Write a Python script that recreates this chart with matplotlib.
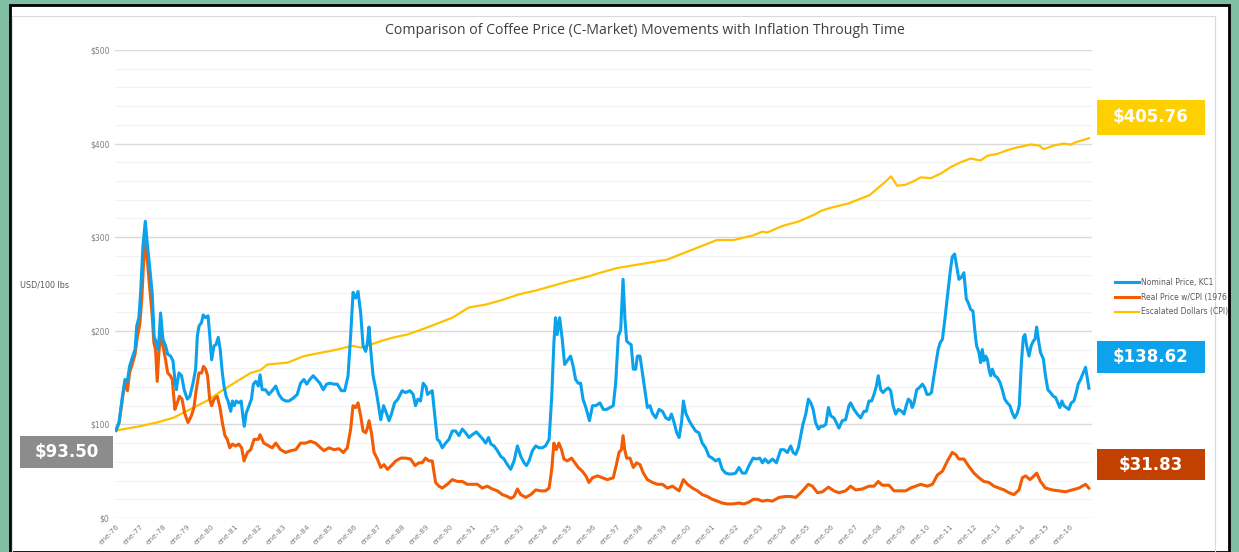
import numpy as np
import matplotlib
matplotlib.use("Agg")
import matplotlib.pyplot as plt
from matplotlib.patches import Rectangle

# ---- data (decimal year, USD/100 lbs) ----
nominal_t = [1976.0, 1976.13, 1976.27, 1976.38, 1976.48, 1976.57, 1976.68, 1976.8, 1976.87, 1976.96,
             1977.03, 1977.13, 1977.23, 1977.31, 1977.41, 1977.52, 1977.6, 1977.7, 1977.78, 1977.87,
             1977.97, 1978.08, 1978.17, 1978.29, 1978.39, 1978.47, 1978.53, 1978.64, 1978.75, 1978.86,
             1978.99, 1979.1, 1979.23, 1979.34, 1979.41, 1979.48, 1979.59, 1979.66, 1979.76, 1979.86,
             1979.93, 1980.01, 1980.11, 1980.19, 1980.29, 1980.37, 1980.46, 1980.53, 1980.62, 1980.7,
             1980.81, 1980.88, 1980.96, 1981.04, 1981.15, 1981.25, 1981.32, 1981.38, 1981.46, 1981.58,
             1981.68, 1981.76, 1981.86, 1981.97, 1982.04, 1982.13, 1982.27, 1982.41, 1982.55, 1982.7,
             1982.83, 1982.97, 1983.12, 1983.26, 1983.43, 1983.6, 1983.74, 1983.88, 1984.0, 1984.13,
             1984.27, 1984.41, 1984.55, 1984.69, 1984.83, 1984.97, 1985.14, 1985.28, 1985.45, 1985.59,
             1985.73, 1985.84, 1985.94, 1986.05, 1986.15, 1986.26, 1986.36, 1986.47, 1986.54, 1986.61,
             1986.68, 1986.78, 1986.9, 1986.99, 1987.1, 1987.22, 1987.31, 1987.45, 1987.56, 1987.68,
             1987.82, 1988.0, 1988.14, 1988.33, 1988.46, 1988.56, 1988.66, 1988.77, 1988.88, 1989.0,
             1989.06, 1989.16, 1989.26, 1989.37, 1989.47, 1989.56, 1989.68, 1989.82, 1989.96, 1990.1,
             1990.24, 1990.38, 1990.52, 1990.66, 1990.8, 1990.94, 1991.11, 1991.25, 1991.39, 1991.5,
             1991.62, 1991.72, 1991.85, 1991.99, 1992.13, 1992.27, 1992.41, 1992.55, 1992.69, 1992.83,
             1992.97, 1993.11, 1993.21, 1993.32, 1993.46, 1993.6, 1993.74, 1993.87, 1994.01, 1994.16,
             1994.27, 1994.36, 1994.43, 1994.5, 1994.6, 1994.71, 1994.81, 1994.92, 1995.06, 1995.17,
             1995.27, 1995.38, 1995.48, 1995.58, 1995.7, 1995.85, 1995.98, 1996.12, 1996.29, 1996.43,
             1996.57, 1996.71, 1996.85, 1996.95, 1997.06, 1997.16, 1997.26, 1997.34, 1997.41, 1997.5,
             1997.6, 1997.69, 1997.79, 1997.86, 1997.97, 1998.07, 1998.17, 1998.28, 1998.39, 1998.49,
             1998.63, 1998.77, 1998.91, 1999.05, 1999.19, 1999.29, 1999.4, 1999.51, 1999.61, 1999.71,
             1999.79, 1999.89, 2000.03, 2000.17, 2000.3, 2000.44, 2000.58, 2000.72, 2000.86, 2001.0,
             2001.14, 2001.28, 2001.42, 2001.56, 2001.7, 2001.84, 2001.98, 2002.12, 2002.26, 2002.4,
             2002.54, 2002.71, 2002.85, 2002.99, 2003.1, 2003.21, 2003.35, 2003.52, 2003.69, 2003.87,
             2004.01, 2004.15, 2004.29, 2004.39, 2004.5, 2004.61, 2004.71, 2004.8, 2004.92, 2005.03,
             2005.13, 2005.23, 2005.33, 2005.45, 2005.55, 2005.65, 2005.76, 2005.87, 2005.97, 2006.1,
             2006.2, 2006.31, 2006.45, 2006.59, 2006.73, 2006.8, 2006.94, 2007.08, 2007.22, 2007.36,
             2007.46, 2007.57, 2007.68, 2007.78, 2007.88, 2007.96, 2008.06, 2008.16, 2008.27, 2008.38,
             2008.48, 2008.58, 2008.69, 2008.8, 2008.94, 2009.04, 2009.13, 2009.22, 2009.31, 2009.38,
             2009.45, 2009.57, 2009.67, 2009.81, 2009.91, 2010.0, 2010.09, 2010.19, 2010.27, 2010.37,
             2010.47, 2010.55, 2010.65, 2010.75, 2010.86, 2010.97, 2011.06, 2011.16, 2011.24, 2011.34,
             2011.44, 2011.55, 2011.65, 2011.73, 2011.83, 2011.93, 2012.0, 2012.08, 2012.18, 2012.25,
             2012.32, 2012.39, 2012.46, 2012.53, 2012.6, 2012.67, 2012.74, 2012.84, 2012.95, 2013.06,
             2013.16, 2013.26, 2013.37, 2013.48, 2013.58, 2013.68, 2013.79, 2013.87, 2013.96, 2014.04,
             2014.11, 2014.18, 2014.28, 2014.37, 2014.46, 2014.53, 2014.6, 2014.67, 2014.76, 2014.88,
             2014.97, 2015.07, 2015.18, 2015.3, 2015.39, 2015.49, 2015.57, 2015.66, 2015.74, 2015.85,
             2015.95, 2016.05, 2016.16, 2016.26, 2016.34, 2016.44, 2016.55, 2016.65, 2016.72, 2016.79]
nominal_usd = [93.5, 102, 130, 148, 146, 162, 171, 180, 205, 214,
               239, 290, 317, 294, 269, 240, 194, 187, 180, 219,
               191, 184, 175, 173, 168, 148, 137, 155, 152, 137,
               127, 130, 144, 159, 194, 205, 209, 217, 214, 216,
               196, 169, 184, 185, 193, 180, 155, 141, 130, 125,
               114, 125, 120, 125, 123, 125, 109, 98, 112, 120,
               127, 143, 146, 141, 153, 137, 137, 132, 136, 141,
               132, 127, 125, 125, 128, 132, 144, 148, 143, 148,
               152, 148, 144, 137, 143, 144, 143, 143, 136, 136,
               152, 195, 241, 235, 242, 219, 184, 178, 187, 204,
               180, 152, 137, 123, 105, 120, 114, 104, 112, 123,
               127, 136, 134, 136, 132, 120, 127, 125, 144, 140,
               132, 134, 136, 109, 84, 82, 75, 80, 84, 93,
               93, 88, 95, 91, 86, 89, 92, 88, 84, 80,
               86, 79, 77, 72, 66, 63, 57, 52, 61, 77,
               66, 59, 56, 61, 72, 77, 75, 75, 77, 84,
               130, 187, 214, 196, 214, 191, 164, 168, 173, 162,
               148, 144, 144, 127, 118, 104, 120, 120, 123, 116,
               116, 118, 120, 144, 194, 201, 255, 212, 189, 187,
               185, 159, 159, 173, 173, 155, 137, 118, 120, 112,
               107, 116, 114, 107, 105, 111, 102, 91, 86, 102,
               125, 112, 104, 98, 93, 91, 80, 75, 66, 64,
               61, 63, 52, 48, 47, 47, 48, 54, 48, 48,
               56, 64, 63, 64, 59, 63, 59, 63, 59, 73,
               73, 70, 77, 70, 68, 75, 88, 100, 111, 127,
               123, 116, 102, 95, 98, 98, 100, 118, 109, 107,
               102, 96, 104, 105, 120, 123, 116, 111, 107, 114,
               114, 125, 125, 132, 141, 152, 137, 134, 137, 139,
               136, 120, 111, 116, 114, 111, 120, 127, 125, 118,
               122, 137, 139, 143, 139, 132, 132, 134, 148, 164,
               180, 187, 191, 212, 237, 262, 279, 282, 270, 255,
               257, 262, 234, 230, 223, 221, 202, 184, 177, 166,
               180, 168, 173, 170, 159, 152, 159, 152, 150, 145,
               137, 127, 123, 120, 112, 107, 112, 120, 166, 193,
               196, 184, 173, 184, 189, 191, 204, 191, 177, 170,
               152, 137, 134, 130, 129, 123, 118, 125, 120, 118,
               116, 123, 125, 134, 143, 148, 155, 161, 150, 138.62]

real_t = [1976.0, 1976.13, 1976.27, 1976.38, 1976.48, 1976.57, 1976.68, 1976.8, 1976.9, 1977.0,
          1977.08, 1977.16, 1977.23, 1977.31, 1977.41, 1977.52, 1977.59, 1977.66, 1977.73, 1977.8,
          1977.88, 1977.97, 1978.08, 1978.17, 1978.28, 1978.36, 1978.47, 1978.57, 1978.66, 1978.77,
          1978.88, 1979.02, 1979.16, 1979.27, 1979.36, 1979.48, 1979.59, 1979.67, 1979.76, 1979.84,
          1979.93, 1980.01, 1980.11, 1980.25, 1980.36, 1980.46, 1980.57, 1980.67, 1980.77, 1980.88,
          1981.02, 1981.15, 1981.27, 1981.37, 1981.51, 1981.65, 1981.79, 1981.97, 1982.04, 1982.2,
          1982.41, 1982.55, 1982.7, 1982.9, 1983.12, 1983.33, 1983.54, 1983.74, 1983.95, 1984.16,
          1984.37, 1984.58, 1984.72, 1984.93, 1985.14, 1985.35, 1985.53, 1985.7, 1985.84, 1985.94,
          1986.05, 1986.15, 1986.26, 1986.36, 1986.47, 1986.54, 1986.61, 1986.71, 1986.82, 1986.96,
          1987.1, 1987.24, 1987.38, 1987.55, 1987.73, 1987.94, 1988.14, 1988.35, 1988.54, 1988.7,
          1988.84, 1988.98, 1989.12, 1989.26, 1989.4, 1989.54, 1989.68, 1989.89, 1990.1, 1990.31,
          1990.52, 1990.73, 1990.94, 1991.15, 1991.36, 1991.57, 1991.78, 1991.99, 1992.2, 1992.41,
          1992.55, 1992.69, 1992.83, 1992.97, 1993.18, 1993.39, 1993.6, 1993.81, 1994.01, 1994.16,
          1994.27, 1994.36, 1994.46, 1994.57, 1994.68, 1994.78, 1994.92, 1995.1, 1995.24, 1995.38,
          1995.55, 1995.7, 1995.83, 1995.98, 1996.19, 1996.4, 1996.6, 1996.85, 1996.98, 1997.09,
          1997.19, 1997.26, 1997.33, 1997.41, 1997.55, 1997.69, 1997.83, 1997.97, 1998.11, 1998.28,
          1998.49, 1998.7, 1998.91, 1999.12, 1999.33, 1999.61, 1999.79, 1999.96, 2000.17, 2000.38,
          2000.58, 2000.79, 2001.0, 2001.21, 2001.42, 2001.63, 2001.84, 2002.12, 2002.33, 2002.54,
          2002.72, 2002.89, 2003.1, 2003.31, 2003.52, 2003.8, 2004.08, 2004.29, 2004.5, 2004.71,
          2004.85, 2005.03, 2005.2, 2005.41, 2005.62, 2005.87, 2006.1, 2006.31, 2006.59, 2006.8,
          2007.01, 2007.29, 2007.57, 2007.78, 2007.96, 2008.13, 2008.41, 2008.62, 2008.9, 2009.11,
          2009.31, 2009.52, 2009.74, 2010.02, 2010.23, 2010.44, 2010.65, 2010.86, 2011.06, 2011.2,
          2011.34, 2011.55, 2011.76, 2011.97, 2012.18, 2012.39, 2012.6, 2012.81, 2013.02, 2013.23,
          2013.44, 2013.65, 2013.86, 2014.0, 2014.14, 2014.32, 2014.49, 2014.6, 2014.76, 2014.97,
          2015.25, 2015.53, 2015.81, 2016.09, 2016.37, 2016.65, 2016.79]
real_usd = [93.5, 102, 127, 146, 136, 155, 164, 175, 194, 207,
            233, 273, 296, 276, 248, 216, 187, 180, 146, 177,
            196, 184, 169, 155, 152, 148, 116, 123, 130, 127,
            112, 102, 109, 118, 136, 155, 155, 162, 159, 152,
            127, 120, 127, 130, 118, 102, 88, 84, 75, 79,
            77, 79, 75, 61, 70, 73, 84, 84, 89, 80,
            77, 75, 80, 73, 70, 72, 73, 80, 80, 82,
            80, 75, 72, 75, 73, 74, 70, 75, 95, 120,
            118, 123, 109, 93, 91, 96, 104, 91, 70, 63,
            54, 57, 52, 56, 61, 64, 64, 63, 56, 59,
            59, 64, 61, 61, 38, 34, 32, 36, 41, 39,
            39, 36, 36, 36, 32, 34, 31, 29, 25, 23,
            21, 23, 31, 25, 22, 25, 30, 29, 29, 32,
            52, 80, 73, 80, 73, 63, 61, 64, 59, 54,
            50, 45, 38, 43, 45, 43, 41, 43, 57, 70,
            73, 88, 73, 64, 64, 54, 59, 57, 48, 41,
            38, 36, 36, 32, 34, 29, 41, 36, 32, 29,
            25, 23, 20, 18, 16, 15, 15, 16, 15, 17,
            20, 20, 18, 19, 18, 22, 23, 23, 22, 27,
            31, 36, 34, 27, 28, 33, 29, 27, 29, 34,
            30, 31, 34, 34, 39, 35, 35, 29, 29, 29,
            32, 34, 36, 34, 36, 46, 50, 61, 70, 68,
            63, 63, 55, 48, 43, 39, 38, 34, 32, 30,
            27, 25, 30, 43, 45, 41, 45, 48, 39, 32,
            30, 29, 28, 30, 32, 36, 31.83]

cpi_t = [1976.0, 1977.0, 1977.7, 1978.4, 1979.1, 1979.8, 1980.5, 1981.2, 1981.65, 1982.06,
         1982.35, 1983.19, 1983.88, 1984.58, 1985.28, 1985.91, 1986.26, 1986.54, 1987.1, 1987.66,
         1988.21, 1988.88, 1989.4, 1990.1, 1990.8, 1991.5, 1992.2, 1992.9, 1993.6, 1994.3,
         1995.0, 1995.8, 1996.3, 1997.0, 1997.7, 1998.4, 1999.1, 1999.8, 2000.5, 2001.2,
         2001.9, 2002.72, 2003.1, 2003.3, 2003.94, 2004.64, 2005.27, 2005.55, 2005.9, 2006.7,
         2007.6, 2008.2, 2008.5, 2008.75, 2009.1, 2009.46, 2009.74, 2010.16, 2010.58, 2011.0,
         2011.41, 2011.83, 2012.25, 2012.53, 2012.95, 2013.37, 2013.79, 2014.35, 2014.7, 2014.9,
         2015.32, 2015.74, 2016.02, 2016.3, 2016.58, 2016.79]
cpi_usd = [93.5, 98, 102, 107, 116, 125, 137, 148, 155, 158,
           164, 166, 173, 176.5, 180, 184, 182, 184, 189, 193,
           196, 202, 207, 214, 225, 228, 233, 239, 243, 248,
           253, 258, 262, 267, 270, 273, 276, 283, 290, 297,
           297, 302, 306, 305, 312, 317, 324, 328, 331, 336,
           345, 358, 365, 355, 356, 360, 364, 363, 368, 375,
           380, 384, 382, 387, 389, 393, 396, 399, 398, 394,
           398, 400, 399, 402, 404, 405.76]

year_ticks = list(range(1976, 2017))
tick_labels = ["ene-%02d" % (y % 100) for y in year_ticks]
series_names = ["Nominal Price, KC1", "Real Price w/CPI (1976", "Escalated Dollars (CPI)"]

BLUE = "#0aa2ec"
ORANGE = "#f25c05"
GOLD = "#ffc000"

W, H = 1239, 552
fig = plt.figure(figsize=(W / 100, H / 100), dpi=100, facecolor="#7fbea3")

# white chart sheet with black frame (behind the axes)
fig.patches.append(Rectangle((10 / W, 0), 1219 / W, 1 - 5 / H, transform=fig.transFigure,
                             facecolor="white", edgecolor="black", linewidth=2, zorder=-2))
fig.patches.append(Rectangle((12 / W, -0.01), 1203 / W, 1 - 16 / H + 0.01, transform=fig.transFigure,
                             facecolor="none", edgecolor="#d9d9d9", linewidth=0.8, zorder=-1))

ax = fig.add_axes([115 / W, 1 - 518 / H, (1092 - 115) / W, (518 - 50) / H])
ax.set_facecolor("none")

ax.plot(cpi_t, cpi_usd, color=GOLD, lw=1.6, label=series_names[2], zorder=3)
ax.plot(real_t, real_usd, color=ORANGE, lw=2.2, label=series_names[1], zorder=4)
ax.plot(nominal_t, nominal_usd, color=BLUE, lw=2.2, label=series_names[0], zorder=5)

ax.set_ylim(0, 500)
ax.set_xlim(1975.96, 2016.92)
ax.set_yticks(np.arange(0, 501, 100))
ax.set_yticklabels(["$%d" % v for v in range(0, 501, 100)], fontsize=5.5, color="#7f7f7f")
ax.set_yticks(np.arange(0, 501, 20), minor=True)
ax.grid(which="major", axis="y", color="#d9d9d9", lw=1)
ax.grid(which="minor", axis="y", color="#f2f2f2", lw=0.8)
ax.set_axisbelow(True)
ax.set_xticks(year_ticks)
ax.set_xticklabels(tick_labels, rotation=45, ha="right", va="top", rotation_mode="anchor",
                   fontsize=5.3, color="#7f7f7f")
ax.tick_params(length=0, pad=4)
ax.tick_params(axis="y", which="minor", length=0)
for s in ax.spines.values():
    s.set_visible(False)

fig.text(645 / W, 1 - 31 / H, "Comparison of Coffee Price (C-Market) Movements with Inflation Through Time",
         ha="center", va="center", fontsize=10.2, color="#404040", family="Open Sans")
fig.text(20 / W, 1 - 285 / H, "USD/100 lbs", ha="left", va="center", fontsize=5.8, color="#595959")

# legend
leg = fig.legend(handles=[ax.lines[2], ax.lines[1], ax.lines[0]], labels=series_names,
                 loc="upper left", bbox_to_anchor=(1108 / W, 1 - 271 / H), frameon=False,
                 fontsize=5.5, handlelength=3.2, handletextpad=0.2, labelspacing=0.75,
                 labelcolor="#595959")

# value boxes
def value_box(x0, y0, w, h, txt, color):
    fig.patches.append(Rectangle((x0 / W, 1 - (y0 + h) / H), w / W, h / H, transform=fig.transFigure,
                                 facecolor=color, edgecolor="none", zorder=5))
    fig.text((x0 + w / 2) / W, 1 - (y0 + h / 2) / H, txt, ha="center", va="center",
             fontsize=12, fontweight="bold", color="white", zorder=6)

value_box(1097, 100, 108, 35, "$405.76", "#ffd000")
value_box(1097, 341, 108, 32, "$138.62", "#0ca3ec")
value_box(1097, 449, 108, 31, "$31.83", "#c24000")
value_box(20, 436, 93, 32, "$93.50", "#8c8c8c")

fig.savefig("out.png", dpi=100, facecolor=fig.get_facecolor())
